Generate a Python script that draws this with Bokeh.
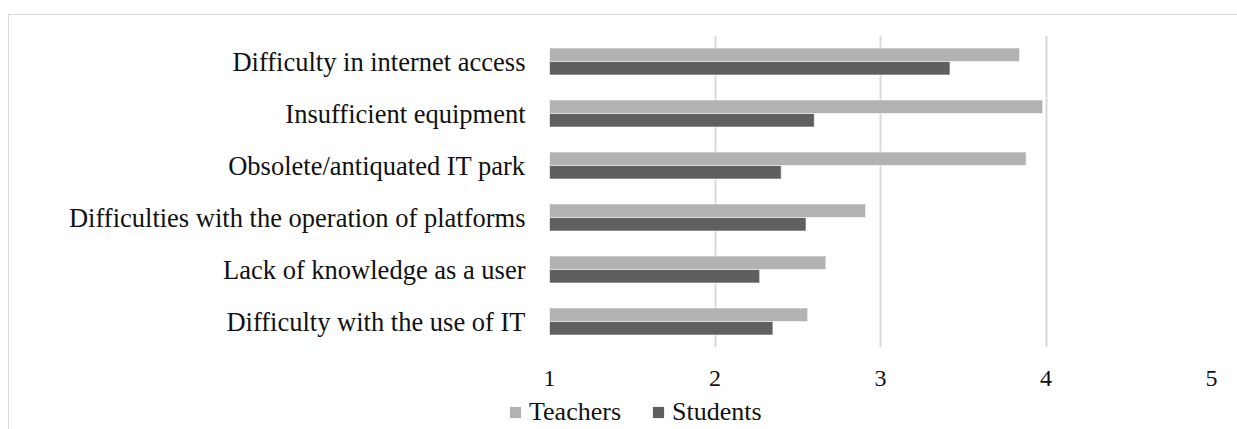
from bokeh.plotting import figure
from bokeh.layouts import column
from bokeh.models import ColumnDataSource, FactorRange, Range1d, FixedTicker, Legend, LegendItem
from bokeh.transform import dodge
from bokeh.embed import file_html
from bokeh.resources import INLINE

categories = [
    "Difficulty in internet access",
    "Insufficient equipment",
    "Obsolete/antiquated IT park",
    "Difficulties with the operation of platforms",
    "Lack of knowledge as a user",
    "Difficulty with the use of IT",
]
teachers = [3.84, 3.98, 3.88, 2.91, 2.67, 2.56]
students = [3.42, 2.60, 2.40, 2.55, 2.27, 2.35]
x_ticks = [1, 2, 3, 4, 5]
series_names = ["Teachers", "Students"]
colors = ["#b2b2b2", "#5f5f5f"]

FONT = "Liberation Serif"
TEXT = "#111111"

src = ColumnDataSource(dict(cat=categories, teachers=teachers, students=students))

p = figure(
    width=1228, height=380,
    y_range=FactorRange(*list(reversed(categories)), range_padding=0),
    x_range=Range1d(1, 5),
    output_backend="svg", toolbar_location=None,
    min_border_left=540, min_border_right=26, min_border_top=20, min_border_bottom=48,
)
p.outline_line_color = None

t = p.hbar(y=dodge("cat", 0.13, range=p.y_range), left=1, right="teachers", height=0.26,
           source=src, fill_color=colors[0], line_color="#ffffff", line_alpha=0.6, line_width=1)
s = p.hbar(y=dodge("cat", -0.13, range=p.y_range), left=1, right="students", height=0.26,
           source=src, fill_color=colors[1], line_color="#ffffff", line_alpha=0.6, line_width=1)

p.xaxis.ticker = FixedTicker(ticks=x_ticks)
p.xaxis.axis_line_color = None
p.xaxis.major_tick_line_color = None
p.xaxis.minor_tick_line_color = None
p.xaxis.major_label_standoff = 17
p.xaxis.major_label_text_font = FONT
p.xaxis.major_label_text_font_size = "24px"
p.xaxis.major_label_text_color = TEXT

p.yaxis.axis_line_color = None
p.yaxis.major_tick_line_color = None
p.yaxis.minor_tick_line_color = None
p.yaxis.major_label_standoff = 18
p.yaxis.major_label_text_font = FONT
p.yaxis.major_label_text_font_size = "26.5px"
p.yaxis.major_label_text_color = TEXT

p.xgrid.grid_line_color = "#d9d9d9"
p.xgrid.grid_line_width = 2
p.ygrid.grid_line_color = None

# legend strip as a second figure below the chart
p2 = figure(width=1228, height=34, x_range=Range1d(0, 1), y_range=Range1d(0, 1),
            output_backend="svg", toolbar_location=None, min_border=0)
p2.frame_align = False
p2.outline_line_color = None
p2.axis.visible = False
p2.grid.visible = False
# zero-size proxies (never visible) so the legend can draw its swatches
r1 = p2.hbar(y="teachers", left=0, right=0, height=0, source=src, fill_color=colors[0], line_color=None)
r2 = p2.hbar(y="students", left=0, right=0, height=0, source=src, fill_color=colors[1], line_color=None)

legend = Legend(
    items=[LegendItem(label=series_names[0], renderers=[r1]), LegendItem(label=series_names[1], renderers=[r2])],
    orientation="horizontal", location=(499, 2),
    glyph_width=14, glyph_height=14, label_standoff=7, spacing=30,
    padding=0, margin=0, border_line_color=None, background_fill_alpha=0,
)
legend.label_text_font = FONT
legend.label_text_font_size = "26px"
legend.label_text_color = TEXT
p2.add_layout(legend, "center")

layout = column(p, p2, spacing=0)
layout.styles = {"margin-left": "8px", "margin-top": "14px",
                 "border-left": "1px solid #d9d9d9", "border-top": "1px solid #d9d9d9"}

open("out.html", "w").write(file_html(layout, INLINE))
